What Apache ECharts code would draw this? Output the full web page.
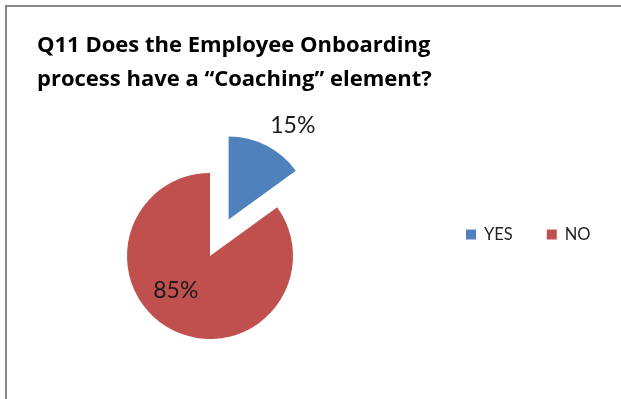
<!DOCTYPE html>
<html>
<head>
<meta charset="utf-8">
<script src="https://cdn.jsdelivr.net/npm/echarts@6/dist/echarts.min.js"></script>
<style>
  html, body { margin: 0; padding: 0; background: #fff; }
  #chart { width: 621px; height: 399px; }
</style>
</head>
<body>
<div id="chart"></div>
<script>
// Survey answers for Q11
const categories = ['YES', 'NO'];
const shares = [15, 85];           // percent of respondents
const sliceColors = ['#4F81BD', '#C0504D'];
const titleText = 'Q11 Does the Employee Onboarding\nprocess have a \u201cCoaching\u201d element?';

const pieData = categories.map((name, i) => ({
  name: name,
  value: shares[i],
  selected: i === 0,
  itemStyle: { color: sliceColors[i] }
}));

const chart = echarts.init(document.getElementById('chart'), null, { renderer: 'canvas' });

chart.setOption({
  backgroundColor: '#ffffff',
  animation: false,
  title: {
    text: titleText,
    left: 32,
    top: 24,
    textStyle: {
      fontFamily: 'Open Sans',
      fontWeight: 'bold',
      fontSize: 22,
      lineHeight: 34,
      color: '#000000'
    }
  },
  legend: {
    data: categories,
    orient: 'horizontal',
    left: 461,
    top: 221,
    itemWidth: 10,
    itemHeight: 10,
    itemGap: 34,
    icon: 'rect',
    selectedMode: false,
    textStyle: {
      fontFamily: 'Lato',
      fontSize: 16.5,
      color: '#222222',
      padding: [0, 0, 0, 3]
    }
  },
  graphic: [
    // chart frame: top and left edges
    { type: 'line', shape: { x1: 5, y1: 6, x2: 621, y2: 6 }, style: { stroke: '#888888', lineWidth: 2 } },
    { type: 'line', shape: { x1: 6, y1: 5, x2: 6, y2: 399 }, style: { stroke: '#888888', lineWidth: 2 } }
  ],
  series: [{
    type: 'pie',
    center: [210, 256],
    radius: 83,
    startAngle: 90,
    clockwise: true,
    selectedMode: 'single',
    selectedOffset: 41,
    silent: true,
    label: {
      show: true,
      position: 'inside',
      formatter: '{d}%',
      fontFamily: 'Lato',
      fontSize: 23,
      color: '#1a1a1a'
    },
    labelLine: { show: false },
    labelLayout: function (params) {
      return params.dataIndex === 0 ? { dx: 44, dy: -54 } : { dx: -14, dy: -5 };
    },
    itemStyle: { borderWidth: 0 },
    emphasis: { disabled: true },
    data: pieData
  }]
});
</script>
</body>
</html>
